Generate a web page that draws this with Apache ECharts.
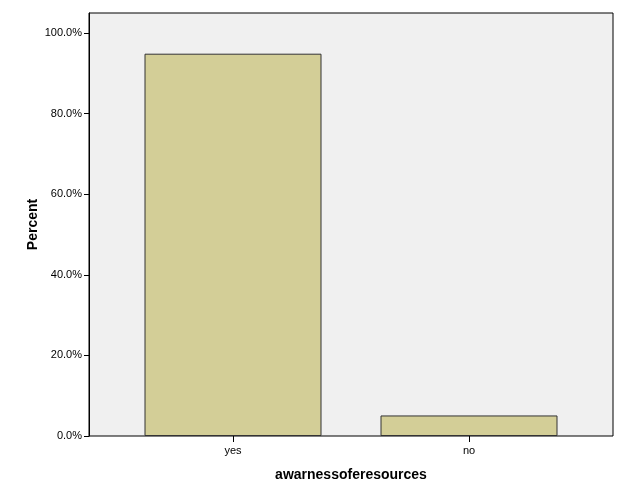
<!DOCTYPE html>
<html>
<head>
<meta charset="utf-8">
<script src="https://cdn.jsdelivr.net/npm/echarts@6/dist/echarts.min.js"></script>
<style>
  html, body { margin: 0; padding: 0; background: #fff; }
  #echarts_id { width: 627px; height: 502px; }
</style>
</head>
<body>
<div id="echarts_id"></div>
<script>
// 数据
var categories = ['yes', 'no'];
var percentValues = [94.9, 5.1];
var yTicks = [0, 20, 40, 60, 80, 100];

var myChart = echarts.init(document.getElementById('echarts_id'));

var font = 'Liberation Sans, Arial, sans-serif';

option = {
    backgroundColor: '#ffffff',
    animation: false,
    grid: [
        // 外框，灰色背景
        { left: 89, right: 14, top: 13, bottom: 66, show: true,
          backgroundColor: '#f0f0f0', borderColor: '#000', borderWidth: 1 },
        // 柱子所在的内部网格
        { left: 115, right: 40, top: 13, bottom: 66 }
    ],
    xAxis: [
        { gridIndex: 0, type: 'value', show: false, min: 0, max: 1 },
        {
            gridIndex: 1,
            type: 'category',
            data: categories,
            name: 'awarnessoferesources',
            nameLocation: 'middle',
            nameGap: 32,
            nameMoveOverlap: false,
            nameTextStyle: { fontFamily: font, fontSize: 14, fontWeight: 'bold', color: '#000' },
            axisLine: { show: false },
            axisTick: { show: true, inside: false, alignWithLabel: true, length: 6, lineStyle: { color: '#000' } },
            axisLabel: { fontFamily: font, fontSize: 11, color: '#000', margin: 9 },
            splitLine: { show: false }
        }
    ],
    yAxis: [
        {
            gridIndex: 0,
            type: 'value',
            min: 0,
            max: 105,
            interval: 20,
            name: 'Percent',
            nameLocation: 'middle',
            nameGap: 49,
            nameMoveOverlap: false,
            nameTextStyle: { fontFamily: font, fontSize: 14, fontWeight: 'bold', color: '#000' },
            axisLine: { show: true, lineStyle: { color: '#000' } },
            axisTick: { show: true, inside: false, length: 5, lineStyle: { color: '#000' } },
            axisLabel: {
                fontFamily: font, fontSize: 11, color: '#000', margin: 7,
                showMaxLabel: false,
                formatter: function (v) { return yTicks.indexOf(v) >= 0 ? v.toFixed(1) + '%' : ''; }
            },
            splitLine: { show: false }
        },
        { gridIndex: 1, type: 'value', min: 0, max: 105, show: false }
    ],
    series: [{
        name: 'Percent',
        type: 'bar',
        xAxisIndex: 1,
        yAxisIndex: 1,
        barWidth: 177,
        data: percentValues,
        itemStyle: { color: '#d3ce97', borderColor: '#333', borderWidth: 1 }
    }]
};

myChart.setOption(option);
</script>
</body>
</html>
